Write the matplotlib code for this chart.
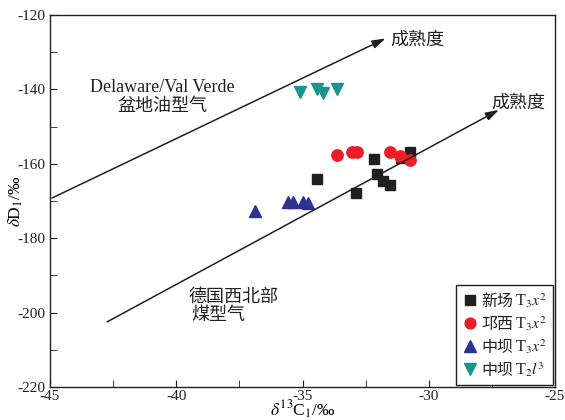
import matplotlib
matplotlib.use("Agg")
import matplotlib.pyplot as plt
from matplotlib.ticker import MultipleLocator, FuncFormatter
from matplotlib.offsetbox import TextArea, DrawingArea, HPacker, VPacker, AnchoredOffsetbox
from matplotlib.lines import Line2D

plt.rcParams['font.family'] = ['Liberation Serif', 'Noto Sans CJK SC', 'DejaVu Sans']
plt.rcParams['mathtext.fontset'] = 'stix'

# Data
xc_x = [-34.44, -32.90, -32.18, -32.06, -31.83, -31.55, -31.11, -30.75]
xc_y = [-164.1, -167.8, -158.7, -162.7, -164.6, -165.7, -158.4, -156.8]

qx_x = [-33.65, -33.02, -32.86, -31.55, -31.15, -30.75]
qx_y = [-157.6, -156.9, -156.9, -156.9, -157.8, -158.9]

zb3_x = [-36.87, -35.56, -35.36, -35.00, -34.80]
zb3_y = [-172.6, -170.3, -170.3, -170.3, -170.6]

zb2_x = [-35.08, -34.44, -34.17, -33.65]
zb2_y = [-140.6, -139.9, -141.0, -139.9]

label_cn = ['新场', '邛西', '中坝', '中坝']
label_math = ['T$_3$$x^2$', 'T$_3$$x^2$', 'T$_3$$x^2$', 'T$_2$$l^3$']

# Trend arrows (start/end in data units)
arrow1 = [(-44.92, -169.2), (-31.71, -126.3)]
arrow2 = [(-42.74, -202.5), (-27.22, -145.5)]

fig = plt.figure(figsize=(5.65, 4.2), dpi=100)
ax = fig.add_axes([50/565, 1-387/420, 505/565, 372/420])

styles = [('s', '#231f20', 7.2), ('o', '#ee1c25', 8.2), ('^', '#2e3192', 9), ('v', '#1a948f', 9)]
for (xs, ys), (m, c, ms) in zip([(xc_x, xc_y), (qx_x, qx_y), (zb3_x, zb3_y), (zb2_x, zb2_y)], styles):
    ax.plot(xs, ys, m, color=c, ms=ms, ls='none')

for a in (arrow1, arrow2):
    ax.annotate('', xy=a[1], xytext=a[0],
                arrowprops=dict(arrowstyle='-|>,head_length=0.8,head_width=0.25',
                                color='#231f20', lw=1.1, shrinkA=0, shrinkB=0))

fs = 13
ax.text(-31.51, -126.7, '成熟度', fontsize=fs, va='center', ha='left', color='#231f20')
ax.text(-27.54, -143.7, '成熟度', fontsize=fs, va='center', ha='left', color='#231f20')
ax.text(-40.56, -139.4, 'Delaware/Val Verde', fontsize=fs, ha='center', va='center', color='#231f20')
ax.text(-40.56, -144.7, '盆地油型气', fontsize=fs, ha='center', va='center', color='#231f20')
ax.text(-37.74, -195.8, '德国西北部', fontsize=fs, ha='center', va='center', color='#231f20')
ax.text(-38.33, -200.9, '煤型气', fontsize=fs, ha='center', va='center', color='#231f20')

ax.set_xlim(-45, -25)
ax.set_ylim(-220, -120)
ax.xaxis.set_major_locator(MultipleLocator(5))
ax.xaxis.set_minor_locator(MultipleLocator(2.5))
ax.yaxis.set_major_locator(MultipleLocator(20))
ax.yaxis.set_minor_locator(MultipleLocator(10))
fmt = FuncFormatter(lambda v, p: ('%d' % v).replace('\u2212', '-'))
ax.xaxis.set_major_formatter(fmt)
ax.yaxis.set_major_formatter(fmt)
ax.tick_params(which='both', direction='in', top=False, right=False, labelsize=11, colors='#231f20')
ax.tick_params(which='both', length=5)
ax.tick_params(axis='x', pad=2)
for s in ax.spines.values():
    s.set_color('#231f20')
    s.set_linewidth(1.0)

ax.set_xlabel(r'$\delta^{13}$C$_1$/‰', fontsize=12.5)
ax.set_ylabel(r'$\delta$D$_1$/‰', fontsize=12.5)
ax.xaxis.set_label_coords(0.5, -0.032)
ax.yaxis.set_label_coords(-0.05, 0.5)

# Legend built from offset boxes so Chinese and math text mix correctly
lfs = 11.5
rows = []
for (m, c, ms), cn, mt in zip(styles, label_cn, label_math):
    da = DrawingArea(13, 10, 0, 0)
    da.add_artist(Line2D([6], [4], marker=m, color=c, ms=ms * 0.95, ls='none'))
    t1 = TextArea(cn, textprops=dict(fontsize=lfs, color='#231f20'))
    t2 = TextArea(mt, textprops=dict(fontsize=lfs, color='#231f20'))
    rows.append(HPacker(children=[da, t1, t2], align='baseline', pad=0, sep=1))
box = VPacker(children=rows, align='left', pad=0, sep=3)
anch = AnchoredOffsetbox(loc='lower right', child=box, pad=0.45, borderpad=0.15,
                         frameon=True, bbox_to_anchor=(1, 0), bbox_transform=ax.transAxes)
anch.patch.set_edgecolor('#231f20')
anch.patch.set_linewidth(1.0)
anch.patch.set_boxstyle('square', pad=0)
ax.add_artist(anch)

fig.savefig('out.png', dpi=100)
